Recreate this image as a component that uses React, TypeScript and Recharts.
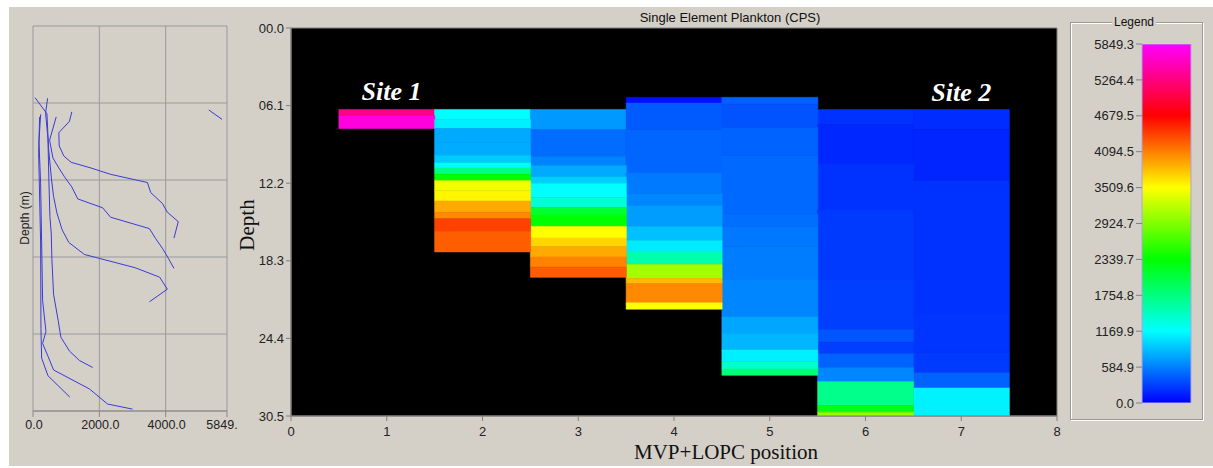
import React from 'react';
import {
  BarChart,
  Bar,
  Cell,
  XAxis,
  YAxis,
  CartesianGrid,
  ReferenceArea,
  ReferenceDot,
  ScatterChart,
  Scatter,
} from 'recharts';

const CPS_MAX = 5849.3;

const positions = [1, 2, 3, 4, 5, 6, 7];
const positionTicks = [0, 1, 2, 3, 4, 5, 6, 7, 8];
const depthTicks = [0, 6.1, 12.2, 18.3, 24.4, 30.5];
const depthTickLabels = ['00.0', '06.1', '12.2', '18.3', '24.4', '30.5'];
const profileTicks = [0, 2000, 4000, 5849.3];
const profileTickLabels = ['0.0', '2000.0', '4000.0', '5849.'];
const legendTicks = [0, 584.9, 1169.9, 1754.8, 2339.7, 2924.7, 3509.6, 4094.5, 4679.5, 5264.4, 5849.3];

// top of each cast (m)
const castTop = [6.4, 6.4, 6.4, 5.45, 5.45, 6.4, 6.4];

// bottom depth (m) of each band and its CPS, one pair of arrays per position
const depth1 = [6.9, 7.9];
const cps1 = [5300, 5700];
const depth2 = [7.2, 7.9, 9.0, 10.0, 10.6, 11.0, 11.5, 12.0, 12.8, 13.6, 14.5, 15.0, 16.0, 17.6];
const cps2 = [1170, 1100, 780, 790, 930, 1150, 1750, 2340, 3450, 3550, 3900, 4050, 4380, 4250];
const depth3 = [8.0, 10.1, 10.8, 11.7, 12.2, 13.3, 14.1, 14.7, 15.6, 16.5, 17.2, 18.0, 18.8, 19.6];
const cps3 = [700, 500, 600, 780, 950, 1170, 1350, 2100, 2340, 3510, 3700, 3900, 4080, 4250];
const depth4 = [5.9, 8.0, 11.4, 13.0, 14.0, 15.6, 16.7, 17.6, 18.6, 19.7, 20.1, 21.6, 22.1];
const cps4 = [60, 420, 470, 560, 620, 720, 880, 1080, 1550, 3080, 3820, 4050, 3510];
const depth5 = [6.0, 7.8, 10.0, 14.6, 15.6, 17.2, 19.8, 22.7, 24.0, 25.3, 26.2, 26.8, 27.3];
const cps5 = [440, 380, 450, 480, 510, 550, 570, 620, 760, 840, 1100, 1400, 1800];
const depth6 = [7.6, 10.7, 14.3, 19.8, 23.7, 24.7, 25.6, 26.7, 27.8, 29.7, 30.2, 30.5];
const cps6 = [230, 180, 230, 260, 290, 390, 290, 450, 620, 1700, 2250, 3000];
const depth7 = [8.0, 12.0, 22.4, 25.5, 27.1, 28.3, 30.5];
const cps7 = [200, 170, 230, 240, 260, 450, 1110];

const siteLabels = [
  { name: 'Site 1', pos: 1.05, depth: 4.9 },
  { name: 'Site 2', pos: 7.0, depth: 5.05 },
];

const legendScale = [{ name: 'CPS', value: CPS_MAX }];

const SANS = '"Liberation Sans", Arial, sans-serif';
const SERIF = '"Liberation Serif", "Times New Roman", serif';
const BG = '#d4d0c8';
const LINE = '#3a3ad6';

const casts: [number[], number[]][] = [
  [depth1, cps1],
  [depth2, cps2],
  [depth3, cps3],
  [depth4, cps4],
  [depth5, cps5],
  [depth6, cps6],
  [depth7, cps7],
];

// blue (0) -> cyan -> green -> yellow -> red -> magenta (max)
const cpsColor = (v: number) => {
  let h = 240 - (300 * v) / CPS_MAX;
  if (h < 0) h += 360;
  return `hsl(${h.toFixed(1)}, 100%, 50%)`;
};

const bandCount = Math.max(...casts.map((c) => c[0].length));
const bandKeys = Array.from({ length: bandCount }, (_, k) => `b${k}`);

const heatRows = positions.map((pos, i) => {
  const row: Record<string, number> = { pos, gap: castTop[i] };
  let prev = castTop[i];
  casts[i][0].forEach((d, k) => {
    row[`b${k}`] = +(d - prev).toFixed(3);
    prev = d;
  });
  return row;
});

// profile lines: CPS at the middle of each band
const profiles = casts.map(([depths, cps], i) =>
  depths.map((d, k) => ({
    cps: cps[k],
    depth: ((k === 0 ? castTop[i] : depths[k - 1]) + d) / 2,
  }))
);

const ProfileTick = (props: any) => {
  const { x, y, index } = props;
  const last = index === profileTicks.length - 1;
  return (
    <text x={x + (last ? -5 : 1)} y={y} dy="0.71em" textAnchor="middle" fontSize={12.5} fill="#222" fontFamily={SANS}>
      {profileTickLabels[index]}
    </text>
  );
};

export default function App() {
  return (
    <div
      style={{
        position: 'fixed',
        left: 9,
        top: 7,
        width: 1204,
        height: 459,
        background: BG,
        fontFamily: SANS,
        overflow: 'hidden',
      }}
    >
      {/* depth profiles */}
      <div style={{ position: 'absolute', left: 0, top: 0 }}>
        <ScatterChart width={240} height={440} margin={{ top: 19, right: 22, bottom: 6, left: 24 }}>
          <CartesianGrid stroke="#9a9a9a" />
          <XAxis
            type="number"
            dataKey="cps"
            domain={[0, CPS_MAX]}
            ticks={profileTicks}
            interval={0}
            allowDataOverflow
            height={30}
            tickSize={6}
            tickMargin={3}
            stroke="#888"
            tick={(p: any) => <ProfileTick {...p} />}
          />
          <YAxis type="number" dataKey="depth" domain={[0, 30.5]} reversed ticks={depthTicks} interval={0} allowDataOverflow hide />
          {profiles.map((pts, i) => (
            <Scatter
              key={i}
              data={pts}
              fill={LINE}
              line={{ stroke: LINE, strokeWidth: 1 }}
              shape={() => <g />}
              isAnimationActive={false}
            />
          ))}
        </ScatterChart>
      </div>
      <div
        style={{
          position: 'absolute',
          left: 15.5,
          top: 211,
          transform: 'translate(-50%, -50%) rotate(-90deg)',
          fontSize: 12,
          color: '#222',
          whiteSpace: 'nowrap',
          lineHeight: 1,
        }}
      >
        Depth (m)
      </div>

      {/* heat map */}
      <div style={{ position: 'absolute', left: 230, top: 0 }}>
        <BarChart
          width={830}
          height={460}
          data={heatRows}
          margin={{ top: 21, right: 12, bottom: 26, left: 12 }}
          barCategoryGap={0}
          barGap={0}
        >
          <CartesianGrid horizontal={false} vertical={false} fill="#000" />
          <XAxis
            type="number"
            dataKey="pos"
            domain={[0, 8]}
            ticks={positionTicks}
            interval={0}
            allowDataOverflow
            height={25}
            tickSize={5}
            tickMargin={6}
            stroke="#808080"
            tick={{ fontSize: 13, fill: '#222', fontFamily: SANS }}
          />
          <YAxis
            type="number"
            domain={[0, 30.5]}
            reversed
            ticks={depthTicks}
            interval={0}
            allowDataOverflow
            width={40}
            tickSize={5}
            tickMargin={2}
            stroke="#808080"
            tickFormatter={(v: number) => depthTickLabels[depthTicks.indexOf(v)]}
            tick={{ fontSize: 13, fill: '#222', fontFamily: SANS }}
          />
          <Bar dataKey="gap" stackId="cast" fill="none" isAnimationActive={false} />
          {bandKeys.map((key, k) => (
            <Bar key={key} dataKey={key} stackId="cast" isAnimationActive={false}>
              {heatRows.map((_, i) => {
                const v = casts[i][1][k];
                const c = v === undefined ? 'none' : cpsColor(v);
                return <Cell key={i} fill={c} stroke={c} strokeWidth={0.6} />;
              })}
            </Bar>
          ))}
          <ReferenceArea x1={0} x2={8} y1={0} y2={30.5} fill="none" stroke="#808080" />
          {siteLabels.map((s) => (
            <ReferenceDot
              key={s.name}
              x={s.pos}
              y={s.depth}
              r={0}
              fill="none"
              stroke="none"
              label={{
                value: s.name,
                position: 'center',
                fill: '#fff',
                fontSize: 26,
                fontWeight: 'bold',
                fontStyle: 'italic',
                fontFamily: SERIF,
              }}
            />
          ))}
        </BarChart>
      </div>
      <div
        style={{
          position: 'absolute',
          left: 721,
          top: 10,
          transform: 'translate(-50%, -50%)',
          fontSize: 13,
          color: '#111',
          whiteSpace: 'nowrap',
          lineHeight: 1,
        }}
      >
        Single Element Plankton (CPS)
      </div>
      <div
        style={{
          position: 'absolute',
          left: 238,
          top: 218,
          transform: 'translate(-50%, -50%) rotate(-90deg)',
          fontSize: 21,
          fontFamily: SERIF,
          color: '#111',
          whiteSpace: 'nowrap',
          lineHeight: 1,
        }}
      >
        Depth
      </div>
      <div
        style={{
          position: 'absolute',
          left: 717,
          top: 445,
          transform: 'translate(-50%, -50%)',
          fontSize: 21,
          fontFamily: SERIF,
          color: '#111',
          whiteSpace: 'nowrap',
          lineHeight: 1,
        }}
      >
        MVP+LOPC position
      </div>

      {/* colour legend */}
      <div
        style={{
          position: 'absolute',
          left: 1061,
          top: 15,
          width: 131,
          height: 396,
          border: '1px solid #9c9890',
          boxShadow: 'inset 1px 1px 0 #fff, 1px 1px 0 #fff',
        }}
      />
      <div
        style={{
          position: 'absolute',
          left: 1125,
          top: 15,
          transform: 'translate(-50%, -50%)',
          background: BG,
          padding: '0 2px',
          fontSize: 12,
          color: '#111',
          lineHeight: 1,
        }}
      >
        Legend
      </div>
      <div style={{ position: 'absolute', left: 1070, top: 30 }}>
        <BarChart
          width={125}
          height={380}
          data={legendScale}
          margin={{ top: 7, right: 13, bottom: 14, left: 3 }}
          barCategoryGap={0}
        >
          <defs>
            <linearGradient id="cpsGradient" x1="0" y1="1" x2="0" y2="0">
              {legendTicks.map((t) => (
                <stop key={t} offset={t / CPS_MAX} stopColor={cpsColor(t)} />
              ))}
            </linearGradient>
          </defs>
          <XAxis dataKey="name" hide />
          <YAxis
            type="number"
            domain={[0, CPS_MAX]}
            ticks={legendTicks}
            interval={0}
            allowDataOverflow
            width={60}
            tickSize={6}
            tickMargin={2}
            axisLine={false}
            stroke="#808080"
            tickFormatter={(v: number) => v.toFixed(1)}
            tick={{ fontSize: 13, fill: '#222', fontFamily: SANS }}
          />
          <Bar dataKey="value" fill="url(#cpsGradient)" stroke="#b0a0e8" isAnimationActive={false} />
        </BarChart>
      </div>
    </div>
  );
}
